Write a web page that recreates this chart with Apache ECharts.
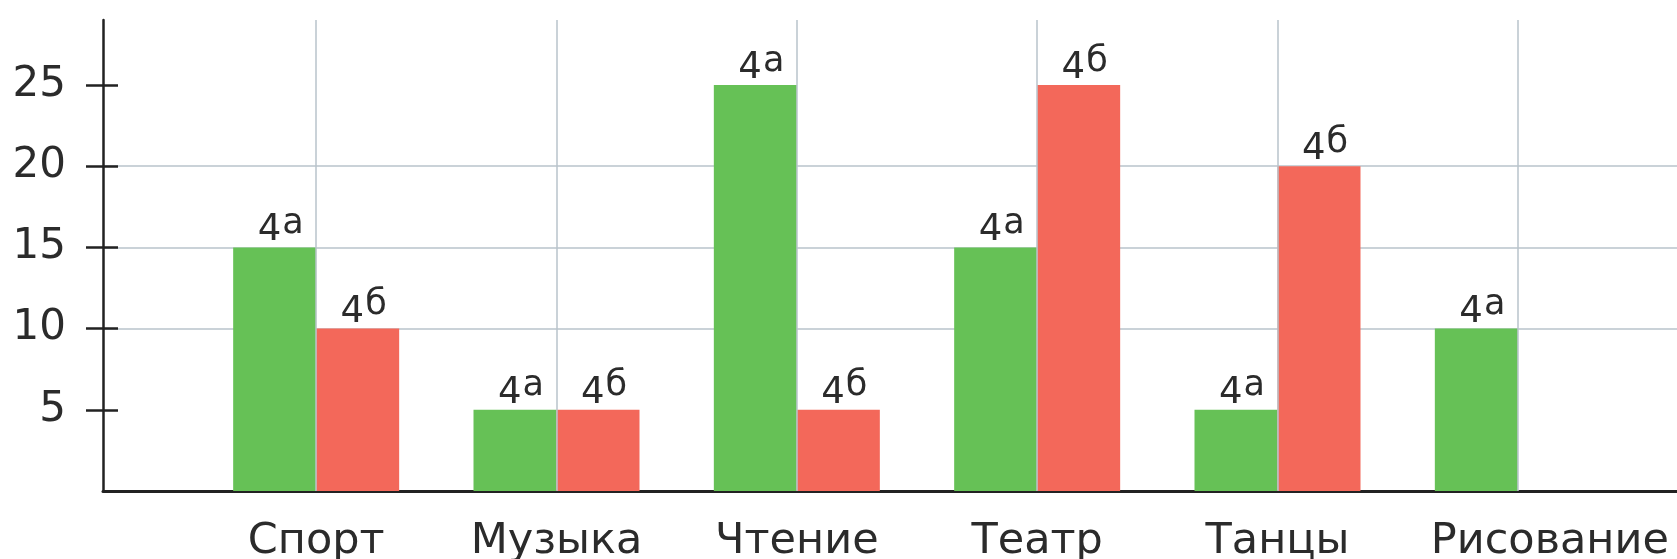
<!DOCTYPE html>
<html>
<head>
<meta charset="utf-8">
<script src="https://cdn.jsdelivr.net/npm/echarts@6/dist/echarts.min.js"></script>
<style>
html,body{margin:0;padding:0;background:#fff;}
#chart{width:1677px;height:559px;}
</style>
</head>
<body>
<div id="chart"></div>
<script>
const categories = ['Спорт', 'Музыка', 'Чтение', 'Театр', 'Танцы', 'Рисование'];
const class4a = [15, 5, 25, 15, 5, 10];
const class4b = [10, 5, 5, 25, 20, null];
const seriesNames = ['4а', '4б'];
const yTicks = [5, 10, 15, 20, 25];

const FONT = 'DejaVu Sans';
const TEXT = '#2b2b2b';
const GRID = '#b9c3cb';
const AXIS = '#222';

const chart = echarts.init(document.getElementById('chart'));

function labelFor(sup) {
  return {
    show: true,
    position: 'top',
    distance: -2,
    offset: [6, 0],
    formatter: '{n|4}{s|' + sup + '}',
    rich: {
      n: { fontFamily: FONT, fontSize: 37, color: TEXT, lineHeight: 37, verticalAlign: 'bottom' },
      s: { fontFamily: FONT, fontSize: 35, color: TEXT, lineHeight: 37, padding: [0, 0, 14, 1] }
    }
  };
}

const option = {
  backgroundColor: '#fff',
  animation: false,
  grid: [
    { left: 103, right: 0, top: 20, bottom: 68, containLabel: false, outerBoundsMode: 'none' },
    { left: 196, right: 39, top: 20, bottom: 68, containLabel: false, outerBoundsMode: 'none' }
  ],
  xAxis: [
    {
      gridIndex: 0, type: 'value', min: 0, max: 1,
      axisLine: { show: true, lineStyle: { color: AXIS, width: 3 } },
      axisTick: { show: false }, axisLabel: { show: false }, splitLine: { show: false }
    },
    {
      gridIndex: 1, type: 'category', data: categories,
      axisLine: { show: false }, axisTick: { show: false },
      axisLabel: {
        interval: 0,
        margin: 29,
        fontFamily: FONT, fontSize: 43, color: TEXT,
        formatter: function (v) { return v === categories[categories.length - 1] ? '{r|' + v + '}' : v; },
        rich: { r: { fontFamily: FONT, fontSize: 43, color: TEXT, padding: [0, 0, 0, 64] } }
      },
      splitLine: { show: false }
    }
  ],
  yAxis: [
    {
      gridIndex: 0, type: 'value', min: 0, max: 29, interval: 5,
      axisLine: { show: true, lineStyle: { color: AXIS, width: 2.5 } },
      axisTick: { show: true, length: 17, customValues: yTicks, lineStyle: { color: AXIS, width: 2.5 } },
      axisLabel: { show: true, margin: 37, customValues: yTicks, fontFamily: FONT, fontSize: 42, color: TEXT },
      splitLine: { show: true, showMinLine: false, showMaxLine: false, lineStyle: { color: GRID, width: 1.5 } }
    },
    {
      gridIndex: 0, type: 'value', min: 0, max: 29, interval: 5, position: 'left',
      axisLine: { show: false },
      axisTick: { show: true, inside: true, length: 15, customValues: yTicks, lineStyle: { color: AXIS, width: 2.5 } },
      axisLabel: { show: false }, splitLine: { show: false }
    },
    {
      gridIndex: 1, type: 'value', min: 0, max: 29, show: false
    }
  ],
  series: [
    {
      type: 'line', xAxisIndex: 1, yAxisIndex: 2, data: [], z: 1, silent: true,
      markLine: {
        silent: true, symbol: ['none', 'none'],
        label: { show: false },
        lineStyle: { color: GRID, width: 1.5, type: 'solid' },
        data: categories.map(c => ({ xAxis: c }))
      }
    },
    {
      name: seriesNames[0], type: 'bar', xAxisIndex: 1, yAxisIndex: 2, z: 3,
      data: class4a, barWidth: 83, barGap: '0%',
      itemStyle: { color: '#66c156' },
      label: labelFor('а')
    },
    {
      name: seriesNames[1], type: 'bar', xAxisIndex: 1, yAxisIndex: 2, z: 3,
      data: class4b, barWidth: 83, barGap: '0%',
      itemStyle: { color: '#f3685a' },
      label: labelFor('б')
    }
  ]
};
chart.setOption(option);
</script>
</body>
</html>
